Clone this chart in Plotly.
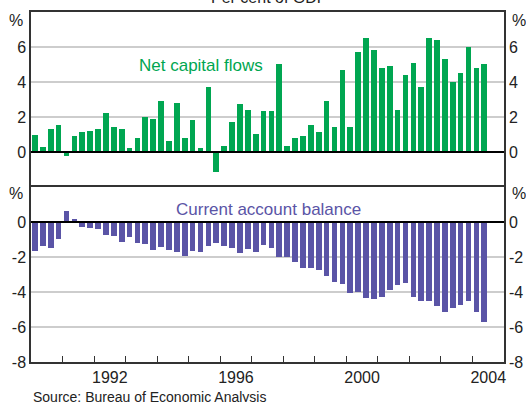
import plotly.graph_objects as go

quarters = [f"{y}Q{q}" for y in range(1990, 2005) for q in range(1, 5)][:58]

net_capital = [1.0, 0.3, 1.3, 1.55, -0.2, 0.9, 1.15, 1.2, 1.3, 2.24,
               1.43, 1.3, 0.23, 0.8, 2.0, 1.9, 2.92, 0.63, 2.8, 0.8,
               1.83, 0.23, 3.73, -1.15, 0.34, 1.72, 2.75, 2.4, 1.03, 2.35,
               2.35, 5.05, 0.34, 0.8, 0.92, 1.55, 1.15, 2.92, 1.43, 4.7,
               1.43, 5.74, 6.54, 5.85, 4.82, 4.93, 2.41, 4.42, 5.1, 3.73,
               6.54, 6.42, 5.33, 4.0, 4.53, 6.02, 4.82, 5.05]

current_account = [-1.68, -1.39, -1.5, -0.99, 0.65, 0.19, -0.3, -0.36, -0.42, -0.76,
                   -0.82, -1.16, -0.88, -1.22, -1.28, -1.62, -1.45, -1.62, -1.73, -1.96,
                   -1.68, -1.73, -1.39, -1.22, -1.39, -1.5, -1.79, -1.56, -1.73, -1.33,
                   -1.5, -2.02, -2.02, -2.3, -2.65, -2.65, -2.76, -3.1, -3.45, -3.56,
                   -4.08, -4.02, -4.36, -4.42, -4.3, -3.9, -3.62, -3.5, -4.3, -4.53,
                   -4.53, -4.82, -5.16, -4.93, -4.76, -4.53, -5.16, -5.73]

year_labels = ["1992", "1996", "2000", "2004"]
top_ticks = [0, 2, 4, 6]
top_tick_text = ["0", "2", "4", "6"]
bottom_ticks = [0, -2, -4, -6, -8]
bottom_tick_text = ["0", "-2", "-4", "-6", "-8"]

# quarter -> decimal year (centre of quarter)
xpos = [int(q[:4]) + (int(q[-1]) - 0.5) / 4 for q in quarters]

GREEN = "#00A651"
PURPLE = "#5A54A6"
AXIS = "#333333"
GRID = "#CDCDCD"
FONT = "Liberation Sans, Arial, sans-serif"

fig = go.Figure()
fig.add_trace(go.Bar(x=xpos, y=net_capital, marker_color=GREEN, marker_line_width=0,
                     width=0.18, xaxis="x", yaxis="y", showlegend=False))
fig.add_trace(go.Bar(x=xpos, y=current_account, marker_color=PURPLE, marker_line_width=0,
                     width=0.18, xaxis="x2", yaxis="y2", showlegend=False))
# helper traces so the right-hand axes render
fig.add_trace(go.Scatter(x=[1990], y=[0], xaxis="x", yaxis="y3", mode="markers",
                         marker=dict(opacity=0), hoverinfo="skip", showlegend=False))
fig.add_trace(go.Scatter(x=[1990], y=[0], xaxis="x2", yaxis="y4", mode="markers",
                         marker=dict(opacity=0), hoverinfo="skip", showlegend=False))

xcommon = dict(range=[1990, 2005], showgrid=False, zeroline=False, showline=True,
               linecolor=AXIS, linewidth=1.5, automargin=False)
ycommon = dict(showline=True, linecolor=AXIS, linewidth=1.5, ticks="",
               tickfont=dict(size=16, color="#222"), zeroline=False, automargin=False)

fig.update_layout(
    width=526, height=402,
    margin=dict(l=31, r=22, t=12, b=40),
    paper_bgcolor="white", plot_bgcolor="white",
    font=dict(family=FONT, color="#222"),
    bargap=0,
    xaxis=dict(anchor="y", domain=[0, 1], side="top", showticklabels=False, ticks="",
               **xcommon),
    xaxis2=dict(anchor="y2", domain=[0, 1], mirror=True,
                tickvals=[1992.5, 1996.5, 2000.5, 2004.5],
                ticktext=year_labels, ticks="", tickfont=dict(size=16, color="#222"),
                minor=dict(tickvals=list(range(1991, 2005)), ticks="inside", ticklen=6,
                           tickcolor=AXIS, tickwidth=1.2, showgrid=False),
                **xcommon),
    yaxis=dict(domain=[0.5, 1], range=[-2, 8], tickvals=top_ticks, ticktext=top_tick_text,
               showgrid=True, gridcolor=GRID, gridwidth=1.5, **ycommon),
    yaxis2=dict(domain=[0, 0.5], range=[-8, 2], tickvals=bottom_ticks,
                ticktext=bottom_tick_text,
                showgrid=True, gridcolor=GRID, gridwidth=1.5, **ycommon),
    yaxis3=dict(overlaying="y", side="right", range=[-2, 8], tickvals=top_ticks,
                ticktext=top_tick_text, showgrid=False, **ycommon),
    yaxis4=dict(overlaying="y2", side="right", range=[-8, 2], tickvals=bottom_ticks,
                ticktext=bottom_tick_text, showgrid=False, **ycommon),
)

# zero lines
fig.add_shape(type="line", xref="x", yref="y", x0=1990, x1=2005, y0=0, y1=0,
              line=dict(color="black", width=1.8))
fig.add_shape(type="line", xref="x2", yref="y2", x0=1990, x1=2005, y0=0, y1=0,
              line=dict(color="black", width=1.8))

ann = []
for side in ("left", "right"):
    for ypaper, shift in ((1, -8), (0.5, -6)):
        ann.append(dict(text="%", xref="paper", yref="paper",
                        x=0 if side == "left" else 1,
                        xanchor="right" if side == "left" else "left",
                        xshift=-6 if side == "left" else 6,
                        y=ypaper, yanchor="middle", yshift=shift, showarrow=False,
                        font=dict(size=16, color="#222")))
ann.append(dict(text="Net capital flows", xref="x", yref="y", x=1995.385, y=4.97,
                showarrow=False, font=dict(size=17, color=GREEN)))
ann.append(dict(text="Current account balance", xref="x2", yref="y2", x=1997.53, y=0.74,
                showarrow=False, font=dict(size=17, color=PURPLE)))
ann.append(dict(text="Per cent of GDP", xref="paper", yref="paper", x=0.505, y=1,
                yanchor="middle", yshift=15, showarrow=False,
                font=dict(size=16, color="#222")))
ann.append(dict(text="Source: Bureau of Economic Analysis", xref="paper", yref="paper",
                x=0, xanchor="left", y=0, yanchor="middle", yshift=-35, showarrow=False,
                font=dict(size=14, color="#222")))
fig.update_layout(annotations=ann)

fig.write_html("out.html", config={"displayModeBar": False},
               post_script="document.body.style.margin='0';document.body.style.overflow='hidden';")
